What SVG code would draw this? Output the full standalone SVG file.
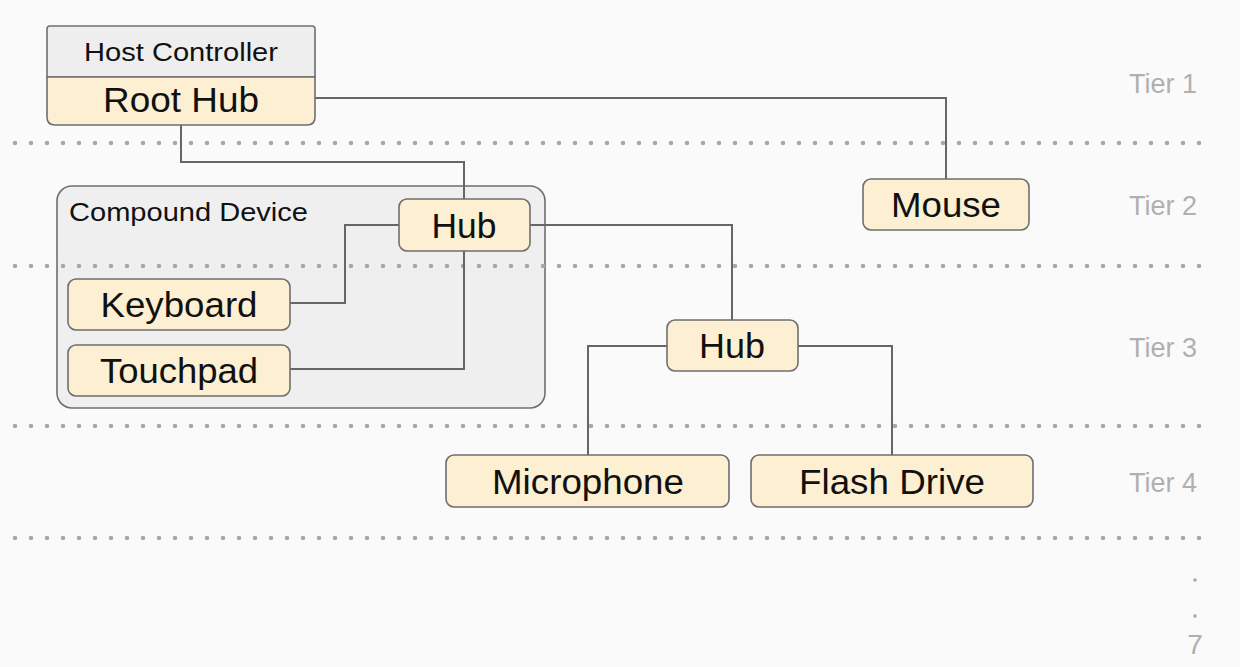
<svg xmlns="http://www.w3.org/2000/svg" width="1240" height="667" viewBox="0 0 1240 667">
<style>
.node{fill:#fcefd2;stroke:#6f6f6f;stroke-width:1.6}
.lbl{font-family:"Liberation Sans",Arial,sans-serif;fill:#111;text-anchor:middle}
.big{font-size:35px}
.small{font-size:25px}
.tier{font-family:"Liberation Sans",Arial,sans-serif;font-size:27px;fill:#b0b0b0;text-anchor:middle}
.dots{stroke:#a8a8a8;stroke-width:4.5;stroke-linecap:round;stroke-dasharray:0 16;fill:none}
.conn{stroke:#666;stroke-width:2;fill:none}
</style>
<rect x="0" y="0" width="1240" height="667" fill="#fafafa"/>

<g id="compound-device">
<rect x="57" y="186" width="488" height="222" rx="15" fill="#efefef" stroke="#6f6f6f" stroke-width="1.6"/>
<text class="lbl small" x="69" y="221" style="text-anchor:start" textLength="239" lengthAdjust="spacingAndGlyphs">Compound Device</text>
</g>

<g id="tier-lines">
<line class="dots" x1="15" y1="143" x2="1200" y2="143"/>
<line class="dots" x1="15" y1="266" x2="1200" y2="266"/>
<line class="dots" x1="15" y1="426" x2="1200" y2="426"/>
<line class="dots" x1="15" y1="538" x2="1200" y2="538"/>
</g>

<g id="connectors">
<polyline class="conn" points="315,98 946,98 946,179"/>
<polyline class="conn" points="181,125 181,162 464,162 464,199"/>
<polyline class="conn" points="399,225 345,225 345,303 290,303"/>
<polyline class="conn" points="464,251 464,369 290,369"/>
<polyline class="conn" points="530,225 732,225 732,320"/>
<polyline class="conn" points="667,346 588,346 588,455"/>
<polyline class="conn" points="798,346 892,346 892,455"/>
</g>

<g id="host-controller">
<path d="M47,77 V29 Q47,26 50,26 H312 Q315,26 315,29 V77 Z" fill="#eeeeee" stroke="#6f6f6f" stroke-width="1.6"/>
<text class="lbl small" x="181" y="61" textLength="194" lengthAdjust="spacingAndGlyphs">Host Controller</text>
</g>
<g id="root-hub">
<path class="node" d="M47,77 H315 V117 Q315,125 307,125 H55 Q47,125 47,117 Z"/>
<text class="lbl big" x="181" y="112" textLength="156" lengthAdjust="spacingAndGlyphs">Root Hub</text>
</g>

<g id="hub-1">
<rect class="node" x="399" y="199" width="131" height="52" rx="8"/>
<text class="lbl big" x="464" y="238" textLength="65" lengthAdjust="spacingAndGlyphs">Hub</text>
</g>
<g id="keyboard">
<rect class="node" x="68" y="279" width="222" height="51" rx="8"/>
<text class="lbl big" x="179" y="317" textLength="157" lengthAdjust="spacingAndGlyphs">Keyboard</text>
</g>
<g id="touchpad">
<rect class="node" x="68" y="345" width="222" height="51" rx="8"/>
<text class="lbl big" x="179" y="383" textLength="158" lengthAdjust="spacingAndGlyphs">Touchpad</text>
</g>
<g id="mouse">
<rect class="node" x="863" y="179" width="166" height="51" rx="8"/>
<text class="lbl big" x="946" y="217" textLength="110" lengthAdjust="spacingAndGlyphs">Mouse</text>
</g>
<g id="hub-2">
<rect class="node" x="667" y="320" width="131" height="51" rx="8"/>
<text class="lbl big" x="732" y="358" textLength="66" lengthAdjust="spacingAndGlyphs">Hub</text>
</g>
<g id="microphone">
<rect class="node" x="446" y="455" width="283" height="52" rx="8"/>
<text class="lbl big" x="588" y="494" textLength="192" lengthAdjust="spacingAndGlyphs">Microphone</text>
</g>
<g id="flash-drive">
<rect class="node" x="751" y="455" width="282" height="52" rx="8"/>
<text class="lbl big" x="892" y="494" textLength="186" lengthAdjust="spacingAndGlyphs">Flash Drive</text>
</g>

<g id="tiers">
<text class="tier" x="1163" y="93">Tier 1</text>
<text class="tier" x="1163" y="215">Tier 2</text>
<text class="tier" x="1163" y="357">Tier 3</text>
<text class="tier" x="1163" y="492">Tier 4</text>
<circle cx="1195" cy="580" r="1.8" fill="#aaaaaa"/>
<circle cx="1195" cy="616" r="1.8" fill="#aaaaaa"/>
<text class="tier" x="1195" y="654" style="font-size:28px">7</text>
</g>
</svg>
